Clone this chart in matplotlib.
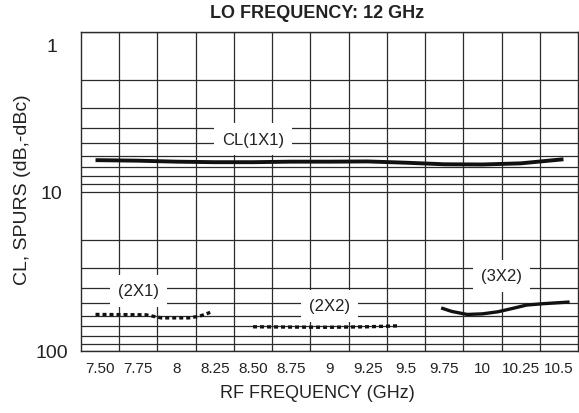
import matplotlib
matplotlib.use("Agg")
import matplotlib.pyplot as plt
import matplotlib.transforms as mtransforms
from matplotlib.ticker import FixedLocator, NullFormatter

# conversion loss and spur curves
freq_cl = [7.47, 7.75, 8.0, 8.25, 8.5, 8.75, 9.0, 9.25, 9.5, 9.75, 10.0, 10.25, 10.53]
cl_1x1 = [6.36, 6.41, 6.5, 6.55, 6.55, 6.5, 6.5, 6.48, 6.6, 6.75, 6.77, 6.66, 6.28]

freq_2x1 = [7.47, 7.8, 7.9, 8.08, 8.15, 8.22]
spur_2x1 = [59, 59.3, 62, 62, 60.5, 57.3]

freq_2x2 = [8.5, 8.75, 9.0, 9.25, 9.46]
spur_2x2 = [70.5, 70.8, 71, 70.5, 69.5]

freq_3x2 = [9.73, 9.8, 9.9, 10.0, 10.1, 10.2, 10.29, 10.4, 10.57]
spur_3x2 = [53.7, 56.5, 59, 58.5, 56.8, 54, 51.5, 50.5, 49.3]

x_ticks = [7.5, 7.75, 8.0, 8.25, 8.5, 8.75, 9.0, 9.25, 9.5, 9.75, 10.0, 10.25, 10.5]
x_labels = ["7.50", "7.75", "8", "8.25", "8.50", "8.75", "9", "9.25", "9.5",
            "9.75", "10", "10.25", "10.5"]
y_ticks = [1, 10, 100]
y_labels = ["1", "10", "100"]

curve_labels = ["CL(1X1)", "(2X1)", "(2X2)", "(3X2)"]
label_pos = [(8.5, 4.7), (7.75, 42), (9.0, 52), (10.125, 33.8)]

# no narrow Helvetica here, so Liberation Sans a bit smaller
plt.rcParams["font.family"] = ["Liberation Sans", "DejaVu Sans"]

grid_color = "#2b2b2b"
text_color = "#222222"

fig = plt.figure(figsize=(5.79, 4.14), dpi=100)
ax = fig.add_axes([81 / 579, 1 - 352 / 414, 497 / 579, 319 / 414])

ax.set_yscale("log")
ax.set_ylim(100, 1)
ax.set_xlim(7.375, 10.625)

# grid: cell borders in x, decades + minor in y
x_grid = [7.375 + 0.25 * k for k in range(1, 13)]
ax.xaxis.set_minor_locator(FixedLocator(x_grid))
ax.xaxis.set_minor_formatter(NullFormatter())
y_minor = [m * d for d in (1, 10) for m in range(2, 10)]
ax.yaxis.set_minor_locator(FixedLocator(y_minor))
ax.yaxis.set_minor_formatter(NullFormatter())

ax.set_xticks(x_ticks, labels=x_labels, fontsize=11)
ax.set_yticks(y_ticks, labels=y_labels, fontsize=14)

ax.grid(True, which="minor", axis="x", color=grid_color, lw=0.9)
ax.grid(True, which="both", axis="y", color=grid_color, lw=0.9)
ax.set_axisbelow(True)
ax.tick_params(which="both", length=0)
ax.tick_params(axis="x", pad=7, colors=text_color)
ax.tick_params(axis="y", pad=21, colors=text_color)
plt.setp(ax.get_yticklabels(), ha="center")
# the "1" sits a bit below the top edge in the original
lbl = ax.get_yticklabels()[0]
lbl.set_transform(lbl.get_transform() + mtransforms.ScaledTranslation(0, -0.12, fig.dpi_scale_trans))

for sp in ax.spines.values():
    sp.set_color(grid_color)
    sp.set_linewidth(1.0)

ax.plot(freq_cl, cl_1x1, color="#111111", lw=2.8, solid_capstyle="butt", zorder=4)
ax.plot(freq_3x2, spur_3x2, color="#111111", lw=2.4, solid_capstyle="butt", zorder=4)
ax.plot(freq_2x1, spur_2x1, color="#111111", lw=2.4, dashes=[1.2, 0.9],
        dash_capstyle="butt", zorder=4)
ax.plot(freq_2x2, spur_2x2, color="#111111", lw=2.4, dashes=[1.2, 0.9],
        dash_capstyle="butt", zorder=4)

for txt, (lx, ly) in zip(curve_labels, label_pos):
    ax.text(lx, ly, txt, ha="center", va="center", fontsize=12, color=text_color,
            zorder=3, bbox=dict(facecolor="white", edgecolor="none", pad=6))

ax.set_xlabel("RF FREQUENCY (GHz)", fontsize=13, color=text_color, va="center")
ax.xaxis.set_label_coords((317 - 81) / 497, -(394 - 352) / 319)
ax.set_ylabel("CL, SPURS (dB,-dBc)", fontsize=14, color=text_color, va="center",
              rotation_mode="anchor")
ax.yaxis.set_label_coords(-(81 - 23) / 497, (352 - 190) / 319)

fig.text(317 / 579, 1 - 14 / 414, "LO FREQUENCY: 12 GHz", ha="center", va="center",
         fontsize=13, fontweight="bold", color=text_color)

fig.savefig("out.png", dpi=100)
